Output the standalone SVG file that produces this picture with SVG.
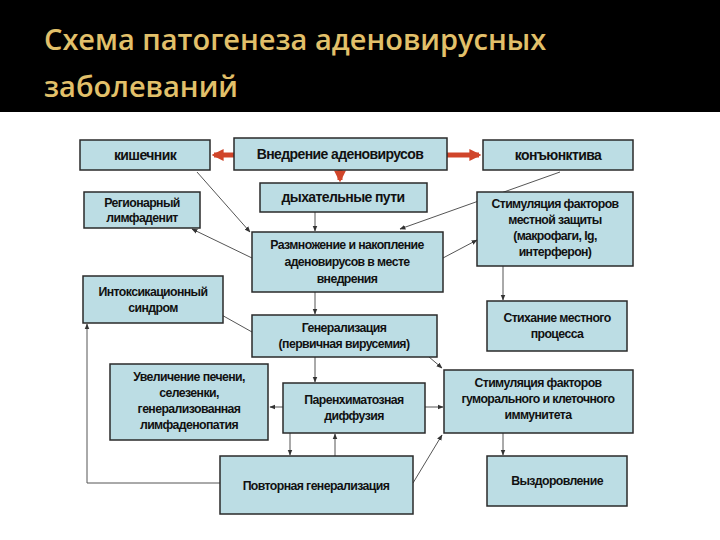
<svg xmlns="http://www.w3.org/2000/svg" width="720" height="540" viewBox="0 0 720 540">
<defs>
<style>
.b{fill:#bcdde4;stroke:#2a2a2a;stroke-width:1.5}
.t{font-family:"Liberation Sans",Arial,sans-serif;font-weight:bold;font-size:12.3px;fill:#111;text-anchor:middle;letter-spacing:-0.6px}
.tl{font-size:14px}
.c{stroke:#555;stroke-width:1;fill:none;marker-end:url(#a)}
.r{stroke:#d0452a;stroke-width:5;fill:none;marker-end:url(#ra)}
</style>
<marker id="a" viewBox="0 0 10 10" refX="9" refY="5" markerWidth="6" markerHeight="6" orient="auto"><path d="M0,1L10,5L0,9z" fill="#333"/></marker>
<marker id="ra" viewBox="0 0 10 10" refX="8" refY="5" markerWidth="2.4" markerHeight="2.4" orient="auto"><path d="M0,0L10,5L0,10z" fill="#d0452a"/></marker>
</defs>
<rect width="720" height="540" fill="#fff"/>
<rect width="720" height="112" fill="#000"/>
<text x="44" y="50" font-family="'Open Sans','Noto Sans',sans-serif" font-size="29" font-weight="600" fill="#e2c06a">Схема патогенеза аденовирусных</text>
<text x="44" y="97" font-family="'Open Sans','Noto Sans',sans-serif" font-size="29" font-weight="600" fill="#e2c06a">заболеваний</text>
<g id="connectors">
<path class="r" d="M234,155H214"/>
<path class="r" d="M447,155H479"/>
<path class="r" d="M340,170V180"/>
<path class="c" d="M197,172L250,232"/>
<path class="c" d="M560,172L400,229"/>
<path class="c" d="M315,212V231"/>
<path class="c" d="M252,258L192,229"/>
<path class="c" d="M443,258L477,240"/>
<path class="c" d="M503,266V300"/>
<path class="c" d="M315,292V314"/>
<path class="c" d="M252,332L211,309"/>
<path class="c" d="M402,334L442,368"/>
<path class="c" d="M315,357V382"/>
<path class="c" d="M283,407H270"/>
<path class="c" d="M425,407H443"/>
<path class="c" d="M290,433V455"/>
<path class="c" d="M335,456V434"/>
<path class="c" d="M413,483L442,435"/>
<path class="c" d="M220,483H87V324"/>
<path class="c" d="M503,433V455"/>
</g>
<g id="n1"><rect class="b" x="80" y="140" width="130" height="30"/><text class="t tl" x="145" y="160">кишечник</text></g>
<g id="n2"><rect class="b" x="234" y="138" width="213" height="32"/><text class="t tl" x="340" y="159">Внедрение аденовирусов</text></g>
<g id="n3"><rect class="b" x="483" y="140" width="150" height="30"/><text class="t tl" x="558" y="160">конъюнктива</text></g>
<g id="n4"><rect class="b" x="260" y="183" width="167" height="29"/><text class="t tl" x="343" y="202">дыхательные пути</text></g>
<g id="n5"><rect class="b" x="84" y="192" width="116" height="36"/><text class="t" x="142" y="207">Регионарный</text><text class="t" x="142" y="222">лимфаденит</text></g>
<g id="n6"><rect class="b" x="477" y="192" width="156" height="74"/><text class="t" x="555" y="208">Стимуляция факторов</text><text class="t" x="555" y="224">местной защиты</text><text class="t" x="555" y="240">(макрофаги, Ig,</text><text class="t" x="555" y="256">интерферон)</text></g>
<g id="n7"><rect class="b" x="252" y="232" width="191" height="60"/><text class="t" x="347" y="249">Размножение и накопление</text><text class="t" x="347" y="266">аденовирусов в месте</text><text class="t" x="347" y="283">внедрения</text></g>
<g id="n8"><rect class="b" x="83" y="276" width="140" height="47"/><text class="t" x="153" y="296">Интоксикационный</text><text class="t" x="153" y="312">синдром</text></g>
<g id="n9"><rect class="b" x="487" y="301" width="140" height="50"/><text class="t" x="557" y="322">Стихание местного</text><text class="t" x="557" y="338">процесса</text></g>
<g id="n10"><rect class="b" x="252" y="315" width="185" height="42"/><text class="t" x="344" y="332">Генерализация</text><text class="t" x="344" y="348">(первичная вирусемия)</text></g>
<g id="n11"><rect class="b" x="110" y="364" width="158" height="76"/><text class="t" x="189" y="381">Увеличение печени,</text><text class="t" x="189" y="397">селезенки,</text><text class="t" x="189" y="413">генерализованная</text><text class="t" x="189" y="429">лимфаденопатия</text></g>
<g id="n12"><rect class="b" x="283" y="383" width="142" height="50"/><text class="t" x="354" y="404">Паренхиматозная</text><text class="t" x="354" y="420">диффузия</text></g>
<g id="n13"><rect class="b" x="444" y="370" width="189" height="63"/><text class="t" x="538" y="387">Стимуляция факторов</text><text class="t" x="538" y="403">гуморального и клеточного</text><text class="t" x="538" y="419">иммунитета</text></g>
<g id="n14"><rect class="b" x="220" y="456" width="193" height="58"/><text class="t" x="316" y="490">Повторная генерализация</text></g>
<g id="n15"><rect class="b" x="487" y="456" width="140" height="50"/><text class="t" x="557" y="485">Выздоровление</text></g>
</svg>
